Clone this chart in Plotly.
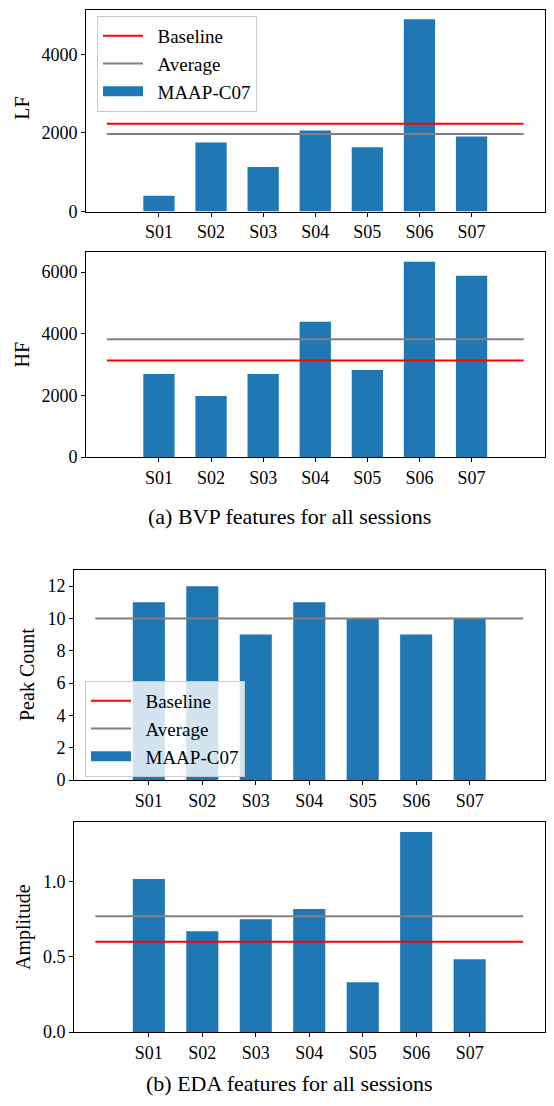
import plotly.graph_objects as go

sessions = ["S01", "S02", "S03", "S04", "S05", "S06", "S07"]
lf_values = [402, 1757, 1130, 2058, 1632, 4895, 1908]
lf_baseline = 2234
lf_average = 1975
hf_values = [2697, 1982, 2697, 4386, 2827, 6336, 5881]
hf_baseline = 3130
hf_average = 3823
peak_values = [11, 12, 9, 11, 10, 9, 10]
peak_baseline = 10
peak_average = 10
amp_values = [1.018, 0.671, 0.751, 0.818, 0.331, 1.331, 0.484]
amp_baseline = 0.60
amp_average = 0.771

# The page body has an 8px default margin; size the figure to fit inside the window.
PAD = 8
W, H = 554 - 2 * PAD, 1106 - 2 * PAD


def fx(px):
    return min(1 - 1.5 / W, max(0.0, (px - PAD) / W))


def fy(py):
    return min(1 - 1.5 / H, max(0.0, 1 - (py - PAD) / H))


FONT = "Liberation Serif"
FS = 18
FS_LABEL = 20
FS_LEG = 19
BLUE = "#1f77b4"
SP = "\u00a0\u00a0"

x_idx = list(range(len(sessions)))
line_x = [-1, len(sessions)]

panels = [
    dict(vals=lf_values, base=lf_baseline, avg=lf_average, title="LF",
         rng=[0, 5140], tickvals=[0, 2000, 4000], fmt="d",
         xd=(86, 548), yd=(6, 211.5), legend="legend", ytx=22),
    dict(vals=hf_values, base=hf_baseline, avg=hf_average, title="HF",
         rng=[0, 6653], tickvals=[0, 2000, 4000, 6000], fmt="d",
         xd=(86, 548), yd=(252, 457), legend=None, ytx=22),
    dict(vals=peak_values, base=peak_baseline, avg=peak_average, title="Peak Count",
         rng=[0, 13], tickvals=[0, 2, 4, 6, 8, 10, 12], fmt="d",
         xd=(74, 548), yd=(570, 780), legend="legend2", ytx=27),
    dict(vals=amp_values, base=amp_baseline, avg=amp_average, title="Amplitude",
         rng=[0, 1.398], tickvals=[0.0, 0.5, 1.0], fmt=".1f",
         xd=(74, 548), yd=(822, 1032), legend=None, ytx=23),
]

fig = go.Figure()
annotations = []
layout_axes = {}

for i, p in enumerate(panels, start=1):
    xa = "x" if i == 1 else f"x{i}"
    ya = "y" if i == 1 else f"y{i}"
    show = p["legend"] is not None
    leg = p["legend"] if show else "legend"
    base_w = 1 if p["base"] == p["avg"] else 2
    fig.add_trace(go.Bar(x=x_idx, y=p["vals"], width=0.6, marker_color=BLUE,
                         marker_line_width=0, showlegend=False,
                         xaxis=xa, yaxis=ya))
    fig.add_trace(go.Scatter(x=line_x, y=[p["base"], p["base"]], mode="lines",
                             line=dict(color="red", width=base_w), name=SP + "Baseline",
                             showlegend=False, legend=leg, xaxis=xa, yaxis=ya))
    fig.add_trace(go.Scatter(x=line_x, y=[p["avg"], p["avg"]], mode="lines",
                             line=dict(color="gray", width=2), name=SP + "Average",
                             showlegend=False, legend=leg, xaxis=xa, yaxis=ya))
    if show:
        fig.add_trace(go.Scatter(x=[None], y=[None], mode="lines",
                                 line=dict(color="red", width=2), name=SP + "Baseline",
                                 showlegend=True, legend=leg, xaxis=xa, yaxis=ya))
        fig.add_trace(go.Scatter(x=[None], y=[None], mode="lines",
                                 line=dict(color="gray", width=2), name=SP + "Average",
                                 showlegend=True, legend=leg, xaxis=xa, yaxis=ya))
        fig.add_trace(go.Scatter(x=[None], y=[None], mode="lines",
                                 line=dict(color=BLUE, width=13), name=SP + "MAAP-C07",
                                 showlegend=True, legend=leg, xaxis=xa, yaxis=ya))
    axis_common = dict(showline=True, mirror=True, linecolor="black", linewidth=1,
                       showgrid=False, zeroline=False, ticks="outside", ticklen=4,
                       automargin=False,
                       tickcolor="black", tickfont=dict(family=FONT, size=FS, color="black"))
    layout_axes["xaxis" if i == 1 else f"xaxis{i}"] = dict(
        domain=[fx(p["xd"][0]), fx(p["xd"][1])], range=[-1.4, 7.4],
        tickvals=x_idx, ticktext=sessions, anchor=ya, **axis_common)
    layout_axes["yaxis" if i == 1 else f"yaxis{i}"] = dict(
        domain=[fy(p["yd"][1]), fy(p["yd"][0])], range=p["rng"],
        tickvals=p["tickvals"], tickformat=p["fmt"], anchor=xa, **axis_common)
    annotations.append(dict(text=p["title"], textangle=-90, xref="paper", yref="paper",
                            x=fx(p["ytx"]), y=fy((p["yd"][0] + p["yd"][1]) / 2),
                            xanchor="center", yanchor="middle", showarrow=False,
                            font=dict(family=FONT, size=FS_LABEL, color="black")))

annotations.append(dict(text="(a) BVP features for all sessions", xref="paper", yref="paper",
                        x=fx(289), y=fy(516), xanchor="center", yanchor="middle",
                        showarrow=False, font=dict(family=FONT, size=22, color="black")))
annotations.append(dict(text="(b) EDA features for all sessions", xref="paper", yref="paper",
                        x=fx(289), y=fy(1083), xanchor="center", yanchor="middle",
                        showarrow=False, font=dict(family=FONT, size=22, color="black")))

legend_style = dict(bgcolor="rgba(255,255,255,0.8)", bordercolor="#cccccc", borderwidth=1,
                    font=dict(family=FONT, size=FS_LEG, color="black"),
                    xanchor="left", yanchor="top", itemwidth=40)

fig.update_layout(
    width=W, height=H,
    margin=dict(l=0, r=0, t=0, b=0),
    paper_bgcolor="white", plot_bgcolor="white",
    showlegend=True,
    legend=dict(x=fx(97), y=fy(16), **legend_style),
    legend2=dict(x=fx(85), y=fy(681), **legend_style),
    annotations=annotations,
    **layout_axes,
)

fig.write_html("out.html")
